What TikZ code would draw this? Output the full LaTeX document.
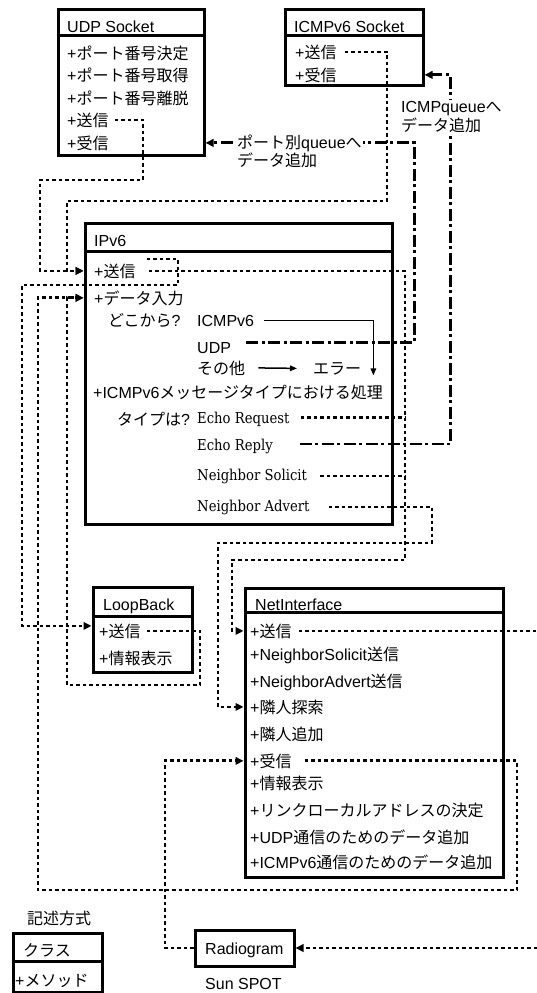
\documentclass[tikz,border=0pt]{standalone}
\usepackage{fontspec}
\setmainfont{Liberation Sans}
\newfontfamily\jp{Noto Sans CJK JP}
\newfontfamily\ser[FakeStretch=0.88]{DejaVu Serif}
\usetikzlibrary{arrows.meta}
\newcommand\J[1]{{\jp #1}}
\tikzset{
  lbl/.style={anchor=base west, inner sep=0pt, font=\fontsize{16}{19}\selectfont},
  serif/.style={anchor=base west, inner sep=0pt, font=\fontsize{15}{19}\selectfont\ser},
  classbox/.style={draw, line width=3pt, inner sep=0pt},
  hdr/.style={line width=2.2pt},
  dotl/.style={line width=2.8pt, dash pattern=on 3.5pt off 3pt},
  dashdot/.style={line width=2.8pt, dash pattern=on 12pt off 3.5pt on 3pt off 3.5pt},
  tip/.style={-{Triangle[length=8pt,width=7.5pt]}},
  solidarr/.style={line width=1.5pt, -{Triangle[length=7pt,width=5.5pt]}},
  note/.style={anchor=west, inner sep=1pt, fill=white, align=left},
}
\begin{document}
\begin{tikzpicture}[x=1pt,y=-1pt]
\useasboundingbox (0,0) rectangle (537,993);

% ---------- class boxes ----------
\node[classbox, minimum width=146pt, minimum height=146pt] (udp) at (131,82) {};
\draw[hdr] ([yshift=-28pt]udp.north west) -- ([yshift=-28pt]udp.north east);
\node[classbox, minimum width=138pt, minimum height=76pt] (icmp) at (354,47) {};
\draw[hdr] ([yshift=-28pt]icmp.north west) -- ([yshift=-28pt]icmp.north east);
\node[classbox, minimum width=307pt, minimum height=301pt] (ipv6) at (238.5,373.5) {};
\draw[hdr] ([yshift=-30pt]ipv6.north west) -- ([yshift=-30pt]ipv6.north east);
\node[classbox, minimum width=99pt, minimum height=85pt] (loop) at (142.5,629.5) {};
\draw[hdr] ([yshift=-31pt]loop.north west) -- ([yshift=-31pt]loop.north east);
\node[classbox, minimum width=258pt, minimum height=289pt] (net) at (374,732.5) {};
\draw[hdr] ([yshift=-26pt]net.north west) -- ([yshift=-26pt]net.north east);
\node[classbox, minimum width=99pt, minimum height=36pt] (radio) at (244.5,948) {};
\node[classbox, minimum width=89pt, minimum height=59pt] (leg) at (57.5,962.5) {};
\draw[hdr] ([yshift=-30pt]leg.north west) -- ([yshift=-30pt]leg.north east);

% ---------- texts ----------
\node[lbl] (uT) at (67,32) {UDP Socket};
\node[lbl] (u1) at (67,59) {+\J{ポート番号決定}};
\node[lbl] (u2) at (67,81) {+\J{ポート番号取得}};
\node[lbl] (u3) at (67,104) {+\J{ポート番号離脱}};
\node[lbl] (uSend) at (67,126) {+\J{送信}};
\node[lbl] (uRecv) at (67,149) {+\J{受信}};

\node[lbl] (cT) at (294,32) {ICMPv6 Socket};
\node[lbl] (cSend) at (295,58) {+\J{送信}};
\node[lbl] (cRecv) at (295,81) {+\J{受信}};

\node[lbl] (iT) at (94,246) {IPv6};
\node[lbl] (iSend) at (94,277) {+\J{送信}};
\node[lbl] (iIn) at (94,304) {+\J{データ入力}};
\node[lbl] (iWhere) at (108,326) {\J{どこから}?};
\node[lbl] (iICMP) at (197,326) {ICMPv6};
\node[lbl] (iUDP) at (197,353) {UDP};
\node[lbl] (iOther) at (197,374) {\J{その他}};
\node[lbl] (iErr) at (313,374) {\J{エラー}};
\node[lbl] (iProc) at (93,398) {+ICMPv6\J{メッセージタイプにおける処理}};
\node[lbl] (iType) at (117,425) {\J{タイプは}?};
\node[serif] (eReq) at (197,423) {Echo Request};
\node[serif] (eRep) at (197,450) {Echo Reply};
\node[serif] (nSol) at (197,480) {Neighbor Solicit};
\node[serif] (nAdv) at (197,511) {Neighbor Advert};

\node[lbl] (lT) at (103,610) {LoopBack};
\node[lbl] (lSend) at (99,637) {+\J{送信}};
\node[lbl] (lInfo) at (99,664) {+\J{情報表示}};

\node[lbl] (nT) at (255,610) {NetInterface};
\node[lbl] (nSend) at (250,637) {+\J{送信}};
\node[lbl] (nNS) at (250,660) {+NeighborSolicit\J{送信}};
\node[lbl] (nNA) at (250,687) {+NeighborAdvert\J{送信}};
\node[lbl] (nSearch) at (250,713) {+\J{隣人探索}};
\node[lbl] (nAdd) at (250,740) {+\J{隣人追加}};
\node[lbl] (nRecv) at (250,767) {+\J{受信}};
\node[lbl] (nInfo) at (250,789) {+\J{情報表示}};
\node[lbl] (nLink) at (250,816) {+\J{リンクローカルアドレスの決定}};
\node[lbl] (nUDP) at (250,843) {+UDP\J{通信のためのデータ追加}};
\node[lbl] (nICMP) at (250,868) {+ICMPv6\J{通信のためのデータ追加}};

\node[lbl] (rT) at (205,954) {Radiogram};
\node[lbl] (sun) at (205,989) {Sun SPOT};

\node[lbl] (legT) at (27,924) {\J{記述方式}};
\node[lbl] (legC) at (23,956) {\J{クラス}};
\node[lbl] (legM) at (15,986) {+\J{メソッド}};

% ---------- helper coordinates ----------
\coordinate (bus) at (405,270);
\coordinate (udpIn) at (udp.east |- uRecv.east);
\coordinate (icmpIn) at (icmp.east |- cRecv.east);
\coordinate (airIn) at (537,948);
\coordinate (airOut) at (537,631);

% ---------- connectors ----------
% UDP send -> IPv6 send
\draw[dotl,tip] ([xshift=6pt]uSend.east) -| (143,180) -- (40,180) |- (ipv6.west |- iSend.east);
% ICMPv6 send -> IPv6 send
\draw[dotl,tip] ([xshift=8pt]cSend.east) -| (387,201) -- (67,201) |- (ipv6.west |- iSend.east);
% IPv6 send -> LoopBack send
\draw[dotl,tip] ([xshift=11pt,yshift=12pt]iSend.east) -| (178,285) -- (22,285) |- ([yshift=5pt]loop.west |- lSend.east);
% IPv6 send -> NetInterface send
\draw[dotl,tip] ([xshift=13pt]iSend.east) -| (405,560) -- (232,560) |- (net.west |- nSend.east);
% Echo Request, Neighbor Solicit -> send bus
\draw[dotl] ([xshift=11pt,yshift=1pt]eReq.east) -- ([yshift=1pt]eReq.east -| bus);
\draw[dotl] ([xshift=13pt]nSol.east) -- (nSol.east -| bus);
% Neighbor Advert -> NetInterface neighbour search
\draw[dotl,tip] ([xshift=19pt]nAdv.east) -| (432,543) -- (218,543) |- (net.west |- nSearch.east);
% LoopBack send -> IPv6 data input
\draw[dotl,tip] ([xshift=6pt]lSend.east) -| (200,685) -- (67,685) |- (ipv6.west |- iIn.east);
% NetInterface receive -> IPv6 data input
\draw[dotl,tip] ([xshift=13pt]nRecv.east) -| (517,890) -- (38,890) |- (ipv6.west |- iIn.east);
% Radiogram -> NetInterface receive
\draw[dotl,tip] (radio.west) -- (165,948) |- (net.west |- nRecv.east);
% air -> Radiogram
\draw[dotl,tip] (airIn) -- (radio.east);
% NetInterface send -> air
\draw[dotl] ([xshift=7pt]nSend.east) -- (nSend.east -| airOut);
% UDP -> UDP Socket receive
\draw[dashdot,tip] ([xshift=15pt,yshift=5pt]iUDP.east) -| ([xshift=209pt]udpIn) -- (udpIn);
% Echo Reply -> ICMPv6 Socket receive
\draw[dashdot,tip] ([xshift=27pt,yshift=2pt]eRep.east) -| ([xshift=26pt]icmpIn) -- (icmpIn);
% inner IPv6 arrows
\draw[solidarr] ([xshift=10pt]iICMP.east) -| ([xshift=12pt,yshift=-7pt]iErr.east);
\draw[solidarr] ([xshift=13pt]iOther.east) -- ([xshift=-16pt]iErr.west);

% ---------- connector labels ----------
\node[note, font=\fontsize{16}{14}\selectfont] (lblUDP) at (236,151) {\J{ポート別}queue\J{へ}\\\J{データ追加}};
\node[note, font=\fontsize{16}{19}\selectfont] (lblICMP) at (400,117) {ICMPqueue\J{へ}\\\J{データ追加}};
\end{tikzpicture}
\end{document}
